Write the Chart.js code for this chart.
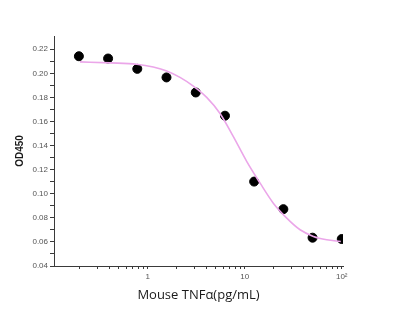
<!DOCTYPE html>
<html>
<head>
<meta charset="utf-8">
<script src="https://cdn.jsdelivr.net/npm/chart.js@4"></script>
<style>
  html, body { margin: 0; padding: 0; background: #fff; }
  #wrap { width: 400px; height: 330px; }
</style>
</head>
<body>
<div id="wrap"><canvas id="doseChart"></canvas></div>
<script>
// measured points (pg/mL vs OD450)
const concentrations = [0.195, 0.39, 0.78, 1.56, 3.125, 6.25, 12.5, 25, 50, 100];
const odValues = [0.2142, 0.2123, 0.2037, 0.1966, 0.1841, 0.1648, 0.1101, 0.0872, 0.0635, 0.0624];

// fitted curve
const curveX = [0.2, 0.41, 0.77, 1.14, 1.57, 2.15, 2.95, 4.05, 5.56, 7.63, 10.5, 14.4, 19.7, 27.1, 37.2, 51, 70, 97.7];
const curveY = [0.2095, 0.2087, 0.2076, 0.2053, 0.2020, 0.1966, 0.1894, 0.1800, 0.1667, 0.1474, 0.1267, 0.1088, 0.0922, 0.0798, 0.0701, 0.0646, 0.0618, 0.0604];

const xTicks = [0.2, 0.3, 0.4, 0.5, 0.6, 0.7, 0.8, 0.9, 1, 2, 3, 4, 5, 6, 7, 8, 9, 10, 20, 30, 40, 50, 60, 70, 80, 90, 100];
const xTickLabels = { 1: '1', 10: '10', 100: '10²' };
const yTicks = [0.04, 0.05, 0.06, 0.07, 0.08, 0.09, 0.10, 0.11, 0.12, 0.13, 0.14, 0.15, 0.16, 0.17, 0.18, 0.19, 0.20, 0.21, 0.22];
const yTickLabels = ['0.04', '0.06', '0.08', '0.10', '0.12', '0.14', '0.16', '0.18', '0.20', '0.22'];

const axisColor = '#3a3a3a';
const tickFont = { family: 'Liberation Sans', size: 8 };

const canvas = document.getElementById('doseChart');
const ctx = canvas.getContext('2d');
const chart = new Chart(ctx, {
  data: {
    datasets: [
      {
        type: 'line',
        data: curveX.map((x, i) => ({ x: x, y: curveY[i] })),
        borderColor: '#eba6e9',
        borderWidth: 1.6,
        pointRadius: 0,
        cubicInterpolationMode: 'monotone',
        fill: false
      },
      {
        type: 'scatter',
        data: concentrations.map((x, i) => ({ x: x, y: odValues[i] })),
        backgroundColor: '#000',
        borderColor: '#000',
        pointRadius: 4.5,
        pointHoverRadius: 4.5
      }
    ]
  },
  options: {
    responsive: true,
    maintainAspectRatio: false,
    animation: false,
    layout: { padding: { left: 0, top: 36, right: 57, bottom: 0 } },
    plugins: { legend: { display: false }, tooltip: { enabled: false } },
    scales: {
      x: {
        type: 'logarithmic',
        min: 0.108,
        max: 103,
        afterBuildTicks: (axis) => { axis.ticks = xTicks.map(v => ({ value: v })); },
        afterFit: (axis) => { axis.height = 64; },
        grid: { drawOnChartArea: false, tickLength: 3, tickColor: axisColor },
        border: { color: axisColor, width: 1 },
        ticks: {
          autoSkip: false,
          maxRotation: 0,
          padding: 3,
          color: '#555',
          font: tickFont,
          callback: (v) => xTickLabels[v] || ''
        },
        title: {
          display: true,
          text: 'Mouse TNFα(pg/mL)',
          color: '#1a1a1a',
          font: { family: 'Open Sans', size: 13 },
          padding: { top: 0, bottom: 27 }
        }
      },
      y: {
        min: 0.04,
        max: 0.231,
        afterBuildTicks: (axis) => { axis.ticks = yTicks.map(v => ({ value: v })); },
        afterFit: (axis) => { axis.width = 54; },
        grid: { drawOnChartArea: false, tickLength: 4, tickColor: axisColor },
        border: { color: axisColor, width: 1 },
        ticks: {
          autoSkip: false,
          padding: 2,
          color: '#555',
          font: tickFont,
          callback: (v) => {
            const s = v.toFixed(2);
            return yTickLabels.includes(s) ? s : '';
          }
        },
        title: {
          display: true,
          text: 'OD450',
          color: '#1a1a1a',
          font: { family: 'Liberation Sans', size: 10, weight: 'bold' },
          padding: { top: 14, bottom: 0 }
        }
      }
    }
  }
});
</script>
</body>
</html>
